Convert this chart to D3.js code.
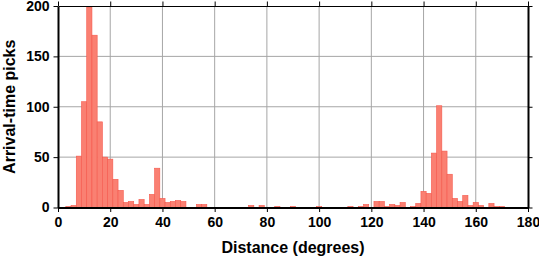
<!DOCTYPE html>
<html>
<head>
<meta charset="utf-8">
<script src="https://cdn.jsdelivr.net/npm/d3@7"></script>
<style>
    body { margin: 0; background: #fff; }
    svg { display: block; }
    text { font-family: 'Liberation Sans', Arial, sans-serif; font-weight: bold; fill: #000; }
</style>
</head>
<body>
<div id="chart"></div>
<script>
// histogram bins (2 degree wide, centred on the value), empty bins left out
const binCenters = [4, 6, 8, 10, 12, 14, 16, 18, 20, 22, 24, 26, 28, 30, 32, 34, 36, 38, 40, 42, 44, 46, 48,
    54, 56, 74, 78, 84, 90, 100, 112, 116, 118, 122, 124, 126, 128, 130, 132,
    136, 138, 140, 142, 144, 146, 148, 150, 152, 154, 156, 158, 160, 162, 166, 168, 170];
const counts = [1, 2, 51, 105, 199, 171, 85, 50, 48, 28, 17, 5, 6, 3, 8, 3, 13, 39, 9, 5, 6, 7, 6,
    3, 3, 2, 2, 1, 1, 1, 1, 1, 3, 6, 6, 1, 3, 2, 5,
    1, 4, 16, 14, 54, 101, 56, 33, 9, 6, 12, 2, 5, 2, 4, 1, 1];
const binWidth = 2;
const xTicks = [0, 20, 40, 60, 80, 100, 120, 140, 160, 180];
const yTicks = [0, 50, 100, 150, 200];

const totalWidth = 539;
const totalHeight = 258;
const margin = { top: 6, right: 11, bottom: 50.5, left: 58 };
const width = totalWidth - margin.left - margin.right;
const height = totalHeight - margin.top - margin.bottom;

const svg = d3.select('#chart')
    .append('svg')
    .attr('width', totalWidth)
    .attr('height', totalHeight)
    .append('g')
    .attr('transform', 'translate(' + margin.left + ',' + margin.top + ')');

const x = d3.scaleLinear().domain([0, 180]).range([0, width]);
const y = d3.scaleLinear().domain([0, 200]).range([height, 0]);

// grid
svg.append('g')
    .attr('class', 'grid')
    .selectAll('line')
    .data(xTicks.slice(1, -1))
    .join('line')
    .attr('x1', d => x(d)).attr('x2', d => x(d))
    .attr('y1', 0).attr('y2', height)
    .attr('stroke', '#a6a6a6')
    .attr('stroke-width', 1);

svg.append('g')
    .attr('class', 'grid')
    .selectAll('line')
    .data(yTicks.slice(1, -1))
    .join('line')
    .attr('x1', 0).attr('x2', width)
    .attr('y1', d => y(d)).attr('y2', d => y(d))
    .attr('stroke', '#a6a6a6')
    .attr('stroke-width', 1);

// bars
svg.append('g')
    .selectAll('rect')
    .data(binCenters)
    .join('rect')
    .attr('x', d => x(d - binWidth / 2))
    .attr('width', x(binWidth) - x(0))
    .attr('y', (d, i) => y(counts[i]))
    .attr('height', (d, i) => y(0) - y(counts[i]))
    .attr('fill', '#fa8072')
    .attr('stroke', '#f5584c')
    .attr('stroke-width', 0.6);

// axes
const fontSize = '14px';

const axisBottom = svg.append('g')
    .attr('transform', 'translate(0,' + height + ')')
    .call(d3.axisBottom(x).tickValues(xTicks).tickSize(4.5).tickPadding(5).tickSizeOuter(0));
const axisLeft = svg.append('g')
    .call(d3.axisLeft(y).tickValues(yTicks).tickSize(4.5).tickPadding(4).tickSizeOuter(0));
const axisTop = svg.append('g')
    .call(d3.axisTop(x).tickValues(xTicks).tickSize(4.5).tickFormat('').tickSizeOuter(0));
const axisRight = svg.append('g')
    .attr('transform', 'translate(' + width + ',0)')
    .call(d3.axisRight(y).tickValues(yTicks).tickSize(4.5).tickFormat('').tickSizeOuter(0));

[axisBottom, axisLeft, axisTop, axisRight].forEach(a => {
    a.attr('font-family', null).attr('font-size', null);
    a.selectAll('text').style('font-size', fontSize);
    a.selectAll('.tick line').attr('stroke', '#000').attr('stroke-width', 1);
});
axisBottom.select('.domain').attr('stroke-width', 2);
axisLeft.select('.domain').attr('stroke-width', 2);
axisRight.select('.domain').attr('stroke-width', 2);
axisTop.select('.domain').attr('stroke-width', 1.2);

// titles
svg.append('text')
    .attr('x', width / 2)
    .attr('y', height + 45)
    .attr('text-anchor', 'middle')
    .style('font-size', '16px')
    .text('Distance (degrees)');

svg.append('text')
    .attr('transform', 'translate(' + (-43) + ',' + (height / 2) + ') rotate(-90)')
    .attr('text-anchor', 'middle')
    .style('font-size', '16px')
    .text('Arrival-time picks');
</script>
</body>
</html>
